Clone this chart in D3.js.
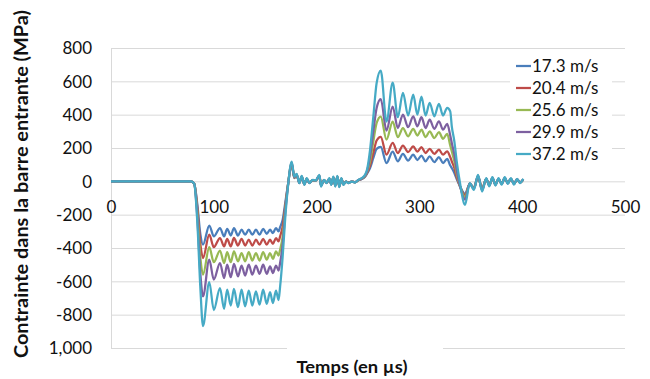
<!DOCTYPE html>
<html>
<head>
<meta charset="utf-8">
<script src="https://cdn.jsdelivr.net/npm/d3@7"></script>
<style>
  body { margin: 0; background: #fff; }
  svg { display: block; font-family: Lato, "Open Sans", sans-serif; }
</style>
</head>
<body>
<svg id="chart" width="650" height="379"></svg>
<script>
const seriesNames = ['17.3 m/s', '20.4 m/s', '25.6 m/s', '29.9 m/s', '37.2 m/s'];
const seriesColors = ['#4a7ebb', '#be4b48', '#98b954', '#7d60a0', '#46aac5'];

const xTicks = [0, 100, 200, 300, 400, 500];
const yTicks = [-1000, -800, -600, -400, -200, 0, 200, 400, 600, 800];
const yTickLabels = ['1,000', '-800', '-600', '-400', '-200', '0', '200', '400', '600', '800'];

const times = [0, 78, 81, 84, 87, 89.5,
  95.6, 100, 106, 110, 113, 116.5, 119.6, 123.5, 127, 130.5, 134, 137.5, 141, 144.5, 148, 151.5, 154.7, 157.5, 160.5, 163, 164.5,
  167, 169.5, 172, 175.8,
  178.3, 180.6, 183.2, 185.5, 188.1, 190.4, 192.9, 196.2, 199.1, 202.7, 204.3, 207.2, 209.8, 212.4, 214.3, 216.3, 218.2, 220.2, 222.1, 224.1, 226.1, 228.6, 230.9, 234.1, 237.4, 240.6, 243.9, 247.1,
  249, 252, 255.2, 258.4, 262.4,
  268, 274, 279, 284, 289, 294, 298, 302, 306, 310, 314.5, 319, 323, 327, 330,
  331.5, 334, 336.5, 339.5, 344.4,
  349, 353, 357, 361, 365, 368, 371, 374, 377, 380, 383, 386, 389, 392, 395, 398, 401];

const v17 = [0, 0, -15, -140, -320, -380,
  -265, -330, -280, -330, -285, -325, -280, -325, -290, -320, -290, -320, -290, -320, -285, -315, -290, -310, -280, -300, -275,
  -230, -130, -26, 100,
  20, 36, -7, 24, -15, 14, -7, 6, 3, 30, -22, 6, -7, 14, -15, 20, -22, 24, -26, 14, -15, -1, -7, -1, -5, 6, 14, 28,
  45, 80, 140, 195, 207,
  110, 179, 120, 165, 125, 160, 128, 155, 120, 150, 115, 145, 110, 135, 95,
  80, 50, 10, -30, -75,
  -15, -38, 26, -42, 13, -20, 16, -16, 13, -13, 16, -9, 13, -13, 9, -5, 9];

const v20 = [0, 0, -15, -160, -380, -460,
  -320, -395, -340, -390, -345, -390, -340, -385, -345, -385, -350, -385, -350, -380, -345, -380, -350, -375, -340, -360, -330,
  -270, -150, -28, 105,
  22, 38, -8, 26, -16, 15, -8, 7, 4, 32, -24, 7, -8, 15, -16, 22, -24, 26, -28, 15, -16, -1, -8, -1, -5, 7, 15, 30,
  50, 95, 170, 245, 267,
  160, 231, 170, 215, 175, 210, 178, 205, 170, 195, 165, 190, 160, 180, 145,
  120, 80, 20, -30, -85,
  -14, -40, 28, -45, 14, -22, 18, -18, 14, -14, 18, -10, 14, -14, 10, -6, 10];

const v25 = [0, 0, -15, -190, -460, -560,
  -395, -485, -415, -490, -425, -485, -420, -480, -430, -480, -425, -475, -430, -475, -425, -470, -430, -465, -420, -445, -410,
  -330, -170, -30, 108,
  24, 40, -9, 28, -18, 16, -9, 7, 4, 34, -26, 7, -9, 16, -18, 24, -26, 28, -30, 16, -18, -1, -9, -1, -6, 7, 16, 32,
  55, 120, 240, 350, 389,
  250, 359, 265, 320, 270, 315, 275, 310, 265, 300, 260, 295, 255, 285, 215,
  180, 120, 40, -30, -95,
  -13, -42, 30, -48, 15, -24, 20, -20, 15, -15, 20, -11, 15, -15, 11, -7, 11];

const v29 = [0, 0, -15, -220, -560, -690,
  -470, -590, -490, -580, -500, -575, -495, -570, -505, -565, -500, -560, -505, -555, -500, -555, -510, -550, -505, -535, -490,
  -380, -190, -35, 112,
  26, 42, -10, 30, -19, 17, -10, 8, 5, 36, -28, 8, -10, 17, -19, 26, -28, 30, -32, 17, -19, -1, -10, -1, -6, 8, 17, 35,
  60, 150, 300, 440, 494,
  305, 449, 320, 400, 325, 390, 330, 385, 320, 370, 315, 360, 310, 345, 275,
  230, 160, 60, -30, -110,
  -12, -46, 34, -54, 17, -26, 22, -22, 17, -17, 22, -13, 17, -17, 13, -8, 13];

const v37 = [0, 0, -15, -250, -650, -868,
  -604, -772, -640, -765, -650, -745, -645, -755, -650, -750, -655, -745, -660, -740, -650, -735, -665, -730, -655, -712, -632,
  -450, -220, -40, 119,
  29, 45, -11, 33, -21, 19, -11, 9, 5, 39, -31, 9, -11, 19, -21, 29, -31, 33, -35, 19, -21, -1, -11, -1, -7, 9, 19, 39,
  69, 189, 389, 590, 665,
  359, 593, 385, 531, 395, 520, 400, 509, 395, 471, 390, 465, 395, 441, 420,
  330, 240, 110, -10, -141,
  -11, -51, 39, -61, 19, -30, 25, -25, 20, -20, 25, -15, 20, -20, 15, -10, 15];

const seriesValues = [v17, v20, v25, v29, v37];

const svg = d3.select('#chart');

const x = d3.scaleLinear().domain([0, 500]).range([111, 625]);
const y = d3.scaleLinear().domain([-1000, 800]).range([348, 48]);

// gridlines
svg.append('g')
  .selectAll('line')
  .data(yTicks)
  .join('line')
  .attr('x1', x(0))
  .attr('x2', x(500))
  .attr('y1', d => y(d) + 0.5)
  .attr('y2', d => y(d) + 0.5)
  .attr('stroke', '#d9d9d9')
  .attr('stroke-width', 1);

svg.append('line')
  .attr('x1', x(0) + 0.5)
  .attr('x2', x(0) + 0.5)
  .attr('y1', y(800))
  .attr('y2', y(-1000))
  .attr('stroke', '#d9d9d9');

// y labels
const yAxis = svg.append('g')
  .attr('transform', `translate(${x(0) - 19},0)`)
  .call(d3.axisLeft(y).tickValues(yTicks).tickSize(0).tickPadding(0)
    .tickFormat((d, i) => yTickLabels[i]));
yAxis.select('.domain').remove();
yAxis.selectAll('text')
  .attr('font-size', 17)
  .attr('font-family', 'Lato, sans-serif')
  .attr('fill', '#111')
  .attr('dy', '0.35em');

// x labels under the zero line
const xAxis = svg.append('g')
  .attr('transform', `translate(0,${y(0)})`)
  .call(d3.axisBottom(x).tickValues(xTicks).tickSize(0).tickPadding(20)
    .tickFormat(d3.format('d')));
xAxis.select('.domain').remove();
xAxis.selectAll('text')
  .attr('font-size', 17)
  .attr('font-family', 'Lato, sans-serif')
  .attr('fill', '#111');

// series
const line = d3.line()
  .x((d, i) => x(times[i]))
  .y(d => y(d))
  .curve(d3.curveMonotoneX);

svg.append('g')
  .selectAll('path')
  .data(seriesValues)
  .join('path')
  .attr('d', d => line(d))
  .attr('fill', 'none')
  .attr('stroke', (d, i) => seriesColors[i])
  .attr('stroke-width', 2.25)
  .attr('stroke-linejoin', 'round');

// legend
const legend = svg.append('g');
legend.append('rect')
  .attr('x', 510)
  .attr('y', 54)
  .attr('width', 102)
  .attr('height', 110)
  .attr('fill', '#fff');

const item = legend.selectAll('g.item')
  .data(seriesNames)
  .join('g')
  .attr('class', 'item')
  .attr('transform', (d, i) => `translate(516,${66 + i * 22})`);
item.append('line')
  .attr('x1', 0)
  .attr('x2', 15)
  .attr('stroke', (d, i) => seriesColors[i])
  .attr('stroke-width', 2.25);
item.append('text')
  .attr('x', 16)
  .attr('dy', '0.35em')
  .attr('font-size', 17)
  .attr('fill', '#111')
  .text(d => d);

// axis titles
svg.append('rect')
  .attr('x', 287)
  .attr('y', 345)
  .attr('width', 156)
  .attr('height', 34)
  .attr('fill', '#fff');
svg.append('text')
  .attr('x', 352)
  .attr('y', 373)
  .attr('text-anchor', 'middle')
  .attr('font-size', 17)
  .attr('font-weight', 'bold')
  .attr('fill', '#111')
  .attr('textLength', 111)
  .attr('lengthAdjust', 'spacingAndGlyphs')
  .text('Temps (en µs)');

svg.append('text')
  .attr('transform', 'translate(28,184) rotate(-90)')
  .attr('text-anchor', 'middle')
  .attr('font-size', 18)
  .attr('font-weight', 'bold')
  .attr('fill', '#111')
  .attr('textLength', 348)
  .attr('lengthAdjust', 'spacingAndGlyphs')
  .text('Contrainte dans la barre entrante (MPa)');
</script>
</body>
</html>
